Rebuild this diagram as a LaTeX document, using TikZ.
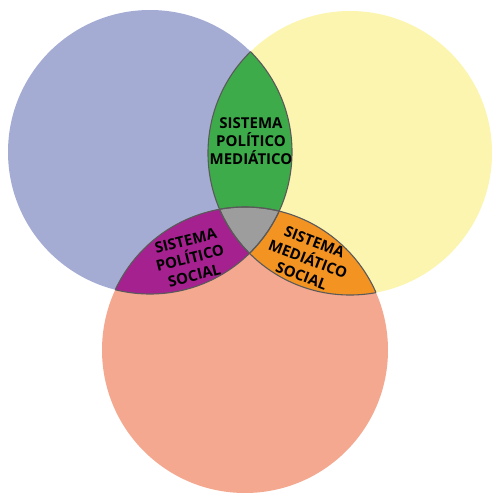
\documentclass[tikz,border=0pt]{standalone}
\usepackage{fontspec}
\setmainfont{Open Sans}
\definecolor{cblue}{HTML}{A5ACD4}
\definecolor{cyellow}{HTML}{FCF5B0}
\definecolor{csalmon}{HTML}{F3A88F}
\definecolor{cgreen}{HTML}{3DAB4A}
\definecolor{cpurple}{HTML}{A62190}
\definecolor{corange}{HTML}{F39322}
\definecolor{cgray}{HTML}{9D9D9D}
\definecolor{cline}{HTML}{5A5A5A}
\begin{document}
\begin{tikzpicture}[x=1pt,y=-1pt,
  lbl/.style={font=\bfseries\fontsize{15}{18}\selectfont, align=center, text=black, inner sep=0pt},
  edge/.style={draw=cline, line width=1.1pt}]
\useasboundingbox (0,0) rectangle (493,493);
\def\B{(150,152) circle (142)}
\def\Y{(350,153) circle (142)}
\def\S{(245,350) circle (143)}
% base circles
\fill[cblue] \B;
\fill[cyellow] \Y;
\fill[csalmon] \S;
% pairwise intersections
\begin{scope}\clip \B; \fill[cgreen] \Y; \end{scope}
\begin{scope}\clip \B; \fill[cpurple] \S; \end{scope}
\begin{scope}\clip \Y; \fill[corange] \S; \end{scope}
\begin{scope}\clip \B; \clip \Y; \fill[cgray] \S; \end{scope}
% outlines
\begin{scope}\clip \B; \draw[edge] \Y; \draw[edge] \S; \end{scope}
\begin{scope}\clip \Y; \draw[edge] \B; \draw[edge] \S; \end{scope}
\begin{scope}\clip \S; \draw[edge] \B; \draw[edge] \Y; \end{scope}
% labels
\node[lbl] (pm) at (251,141) {SISTEMA\\POLÍTICO\\MEDIÁTICO};
\node[lbl, rotate=14] (ps) at (190,258) {SISTEMA\\POLÍTICO\\SOCIAL};
\node[lbl, rotate=-21] (ms) at (308,259) {SISTEMA\\MEDIÁTICO\\SOCIAL};
\end{tikzpicture}
\end{document}
